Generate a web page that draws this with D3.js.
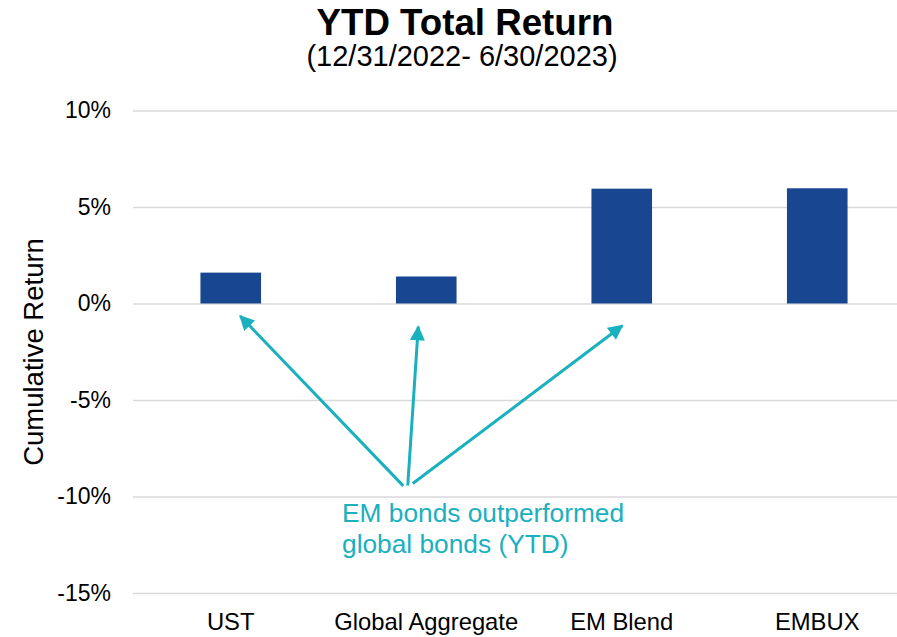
<!DOCTYPE html>
<html>
<head>
<meta charset="utf-8">
<script src="https://cdn.jsdelivr.net/npm/d3@7"></script>
<style>
  body { margin: 0; background: #fff; }
  svg { display: block; font-family: "Liberation Sans", Arial, sans-serif; }
</style>
</head>
<body>
<svg></svg>
<script>
const [WIDTH, HEIGHT] = [897, 637]

// data
const categories = ["UST", "Global Aggregate", "EM Blend", "EMBUX"]
const returns = [1.6, 1.4, 5.95, 5.97]
const yTicks = [-15, -10, -5, 0, 5, 10]
const noteLines = ["EM bonds outperformed", "global bonds (YTD)"]
// arrows: which bar they point to, tip offset (px) and tip value (%)
const arrowTargets = ["UST", "Global Aggregate", "EM Blend"]
const arrowTipDx = [9.5, -8, 0.5]
const arrowTipVal = [-0.65, -1.2, -1.15]
const arrowTailDx = [-23, -18.5, -13.5]
const arrowTailVal = [-9.45, -9.43, -9.33]

const BAR = "#184690", TEAL = "#1ab0be", GRID = "#d9d9d9"

const svg = d3.select("svg").attr("width", WIDTH).attr("height", HEIGHT)

const x = d3.scaleBand().domain(categories).range([133, 915])
    .paddingInner(0.69).paddingOuter(0.345)
const y = d3.scaleLinear().domain([-15, 10]).range([593, 110.5])

// title
svg.append("text").attr("x", 465).attr("y", 35).attr("text-anchor", "middle")
    .attr("font-size", 36.7).attr("font-weight", "bold").text("YTD Total Return")
svg.append("text").attr("x", 462).attr("y", 66).attr("text-anchor", "middle")
    .attr("font-size", 29).text("(12/31/2022- 6/30/2023)")

// gridlines + y labels
const yAxis = svg.append("g").attr("transform", "translate(133,0)")
    .call(d3.axisLeft(y).tickValues(yTicks).tickFormat(d => d + "%").tickSize(-800).tickPadding(22))
yAxis.select(".domain").remove()
yAxis.selectAll(".tick line").attr("stroke", GRID).attr("stroke-width", 1.5)
yAxis.selectAll(".tick text").attr("font-size", 23).attr("fill", "#000")
    .attr("font-family", "Liberation Sans, Arial, sans-serif")

svg.append("text").attr("transform", "translate(43,352) rotate(-90)")
    .attr("text-anchor", "middle").attr("font-size", 27.5).text("Cumulative Return")

// bars
svg.append("g").selectAll("rect").data(categories).join("rect")
    .attr("x", d => x(d))
    .attr("width", x.bandwidth())
    .attr("y", (d, i) => y(Math.max(0, returns[i])))
    .attr("height", (d, i) => Math.abs(y(returns[i]) - y(0)))
    .attr("fill", BAR)

// x labels
svg.append("g").selectAll("text").data(categories).join("text")
    .attr("x", d => x(d) + x.bandwidth() / 2)
    .attr("y", 630)
    .attr("text-anchor", "middle")
    .attr("font-size", 23.8)
    .text(d => d)

// arrows
svg.append("defs").append("marker")
    .attr("id", "head").attr("viewBox", "0 0 10 10")
    .attr("refX", 9).attr("refY", 5)
    .attr("markerWidth", 5.5).attr("markerHeight", 5)
    .attr("markerUnits", "strokeWidth")
    .attr("orient", "auto")
    .append("path").attr("d", "M0,0L10,5L0,10Z").attr("fill", TEAL)

const gx = "Global Aggregate"
svg.append("g").selectAll("line").data(arrowTargets).join("line")
    .attr("x1", (d, i) => x(gx) + x.bandwidth() / 2 + arrowTailDx[i])
    .attr("y1", (d, i) => y(arrowTailVal[i]))
    .attr("x2", (d, i) => x(d) + x.bandwidth() / 2 + arrowTipDx[i])
    .attr("y2", (d, i) => y(arrowTipVal[i]))
    .attr("stroke", TEAL).attr("stroke-width", 3)
    .attr("marker-end", "url(#head)")

// note
svg.append("g").selectAll("text").data(noteLines).join("text")
    .attr("x", 342).attr("y", (d, i) => 521.5 + i * 31)
    .attr("font-size", 26.3).attr("fill", TEAL)
    .text(d => d)
</script>
</body>
</html>
